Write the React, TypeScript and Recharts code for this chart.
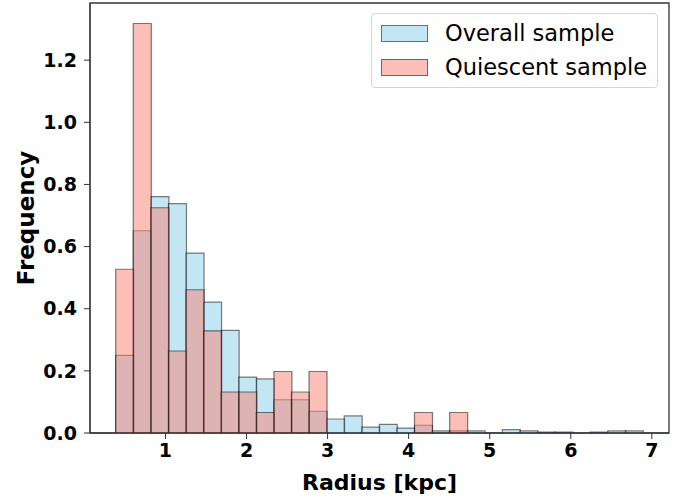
import { ComposedChart, Bar, XAxis, YAxis, ReferenceArea } from 'recharts';

// bin centres of the 30 shared histogram bins (kpc)
const binCenters = [
  0.494, 0.711, 0.928, 1.145, 1.362, 1.578, 1.795, 2.012, 2.229, 2.446,
  2.662, 2.879, 3.096, 3.313, 3.53, 3.746, 3.963, 4.18, 4.397, 4.614,
  4.83, 5.047, 5.264, 5.481, 5.698, 5.914, 6.131, 6.348, 6.565, 6.782,
];
const overallFreq = [
  0.25, 0.651, 0.761, 0.738, 0.579, 0.421, 0.33, 0.18, 0.174, 0.107,
  0.107, 0.07, 0.045, 0.055, 0.019, 0.028, 0.016, 0.025, 0.007, 0.007,
  0.007, 0, 0.011, 0.007, 0.003, 0.003, 0, 0.003, 0.007, 0.007,
];
const quiescentFreq = [
  0.527, 1.318, 0.725, 0.264, 0.461, 0.329, 0.132, 0.132, 0.066, 0.198,
  0.132, 0.198, 0, 0, 0, 0, 0, 0.066, 0, 0.066,
  0, 0, 0, 0, 0, 0, 0, 0, 0, 0,
];
const xTicks = [1, 2, 3, 4, 5, 6, 7];
const yTicks = [0, 0.2, 0.4, 0.6, 0.8, 1.0, 1.2];
const xDomain = [0.069, 7.212];
const yDomain = [0, 1.384];
const seriesNames = ['Overall sample', 'Quiescent sample'];

const data = binCenters.map((x, i) => ({
  x,
  overall: overallFreq[i],
  quiescent: quiescentFreq[i],
}));

const FONT = '"DejaVu Sans", sans-serif';
const BLUE = '#87CEEB';
const SALMON = '#FA8072';
const AXIS = '#333';

const tickStyle = { fontFamily: FONT, fontWeight: 700, fontSize: 19, fill: '#000' };

function LegendBox() {
  const rows = [
    { name: seriesNames[0], fill: 'rgba(135,206,235,0.5)' },
    { name: seriesNames[1], fill: 'rgba(250,128,114,0.5)' },
  ];
  return (
    <div
      style={{
        position: 'absolute',
        left: 371,
        top: 13,
        boxSizing: 'border-box',
        width: 287,
        height: 75,
        border: '1px solid #d5d5d5',
        borderRadius: 4,
        background: 'rgba(255,255,255,0.8)',
        padding: '2px 0 0 9px',
        fontFamily: FONT,
        fontSize: 22.5,
        color: '#000',
      }}
    >
      {rows.map((r) => (
        <div key={r.name} style={{ display: 'flex', alignItems: 'center', height: 34 }}>
          <span
            style={{
              display: 'inline-block',
              boxSizing: 'border-box',
              width: 47,
              height: 17,
              backgroundColor: r.fill,
              border: '1px solid rgba(0,0,0,0.5)',
              marginRight: 17,
            }}
          />
          <span>{r.name}</span>
        </div>
      ))}
    </div>
  );
}

export default function App() {
  return (
    <div style={{ position: 'absolute', left: 0, top: 0, width: 686, height: 501, background: '#fff' }}>
      <ComposedChart
        width={686}
        height={501}
        data={data}
        margin={{ top: 3, right: 17, bottom: 0, left: 0 }}
        barCategoryGap={0}
        barGap={0}
      >
        <XAxis
          xAxisId="overall"
          dataKey="x"
          type="number"
          domain={xDomain}
          allowDataOverflow
          ticks={xTicks}
          height={68}
          stroke={AXIS}
          tickSize={6}
          tickMargin={5}
          tick={tickStyle}
          label={{
            content: ({ viewBox }: any) => (
              <text
                x={viewBox.x + viewBox.width / 2}
                y={viewBox.y + 49}
                textAnchor="middle"
                dominantBaseline="central"
                style={{ fontFamily: FONT, fontWeight: 700, fontSize: 22 }}
              >
                Radius [kpc]
              </text>
            ),
          }}
        />
        <XAxis
          xAxisId="quiescent"
          dataKey="x"
          type="number"
          domain={xDomain}
          allowDataOverflow
          hide
        />
        <YAxis
          type="number"
          domain={yDomain}
          allowDataOverflow
          ticks={yTicks}
          width={90}
          stroke={AXIS}
          tickSize={6}
          tickMargin={7}
          tick={tickStyle}
          tickFormatter={(v: number) => v.toFixed(1)}
          label={{
            content: ({ viewBox }: any) => {
              const cx = 26;
              const cy = viewBox.y + viewBox.height / 2;
              return (
                <text
                  x={cx}
                  y={cy}
                  textAnchor="middle"
                  dominantBaseline="central"
                  transform={`rotate(-90 ${cx} ${cy})`}
                  style={{ fontFamily: FONT, fontWeight: 700, fontSize: 23 }}
                >
                  Frequency
                </text>
              );
            },
          }}
        />
        <Bar
          xAxisId="overall"
          dataKey="overall"
          name={seriesNames[0]}
          fill={BLUE}
          fillOpacity={0.5}
          stroke="#000"
          strokeOpacity={0.5}
          strokeWidth={1.2}
          isAnimationActive={false}
        />
        <Bar
          xAxisId="quiescent"
          dataKey="quiescent"
          name={seriesNames[1]}
          fill={SALMON}
          fillOpacity={0.5}
          stroke="#000"
          strokeOpacity={0.5}
          strokeWidth={1.2}
          isAnimationActive={false}
        />
        {/* axes frame */}
        <ReferenceArea
          xAxisId="overall"
          x1={xDomain[0]}
          x2={xDomain[1]}
          y1={yDomain[0]}
          y2={yDomain[1]}
          fill="none"
          fillOpacity={0}
          stroke={AXIS}
          strokeWidth={1.3}
          strokeOpacity={1}
          ifOverflow="visible"
        />
      </ComposedChart>
      <LegendBox />
    </div>
  );
}
